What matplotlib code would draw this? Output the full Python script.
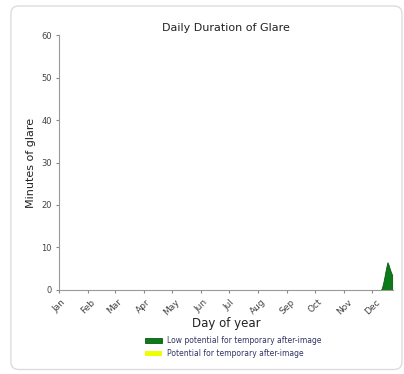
import matplotlib.pyplot as plt
from matplotlib.patches import FancyBboxPatch

# glare data (day of year, minutes)
days = [343, 344, 345, 346, 347, 348, 349, 350, 351, 352, 353, 354, 355]
low_minutes = [0, 0.4, 1.2, 2.2, 3.3, 4.5, 5.6, 6.5, 6, 5.3, 4.6, 4, 3.5]
high_minutes = [0, 0, 0, 0, 0, 0, 0, 0, 0, 0, 0, 0, 0]

month_days = [0, 31, 59, 90, 120, 151, 181, 212, 243, 273, 304, 334]
month_names = ['Jan', 'Feb', 'Mar', 'Apr', 'May', 'Jun',
               'Jul', 'Aug', 'Sep', 'Oct', 'Nov', 'Dec']

fig = plt.figure(figsize=(4.04, 3.74), dpi=100)

# card border
card = FancyBboxPatch((0.027, 0.012), 0.968, 0.972, boxstyle='round,pad=0,rounding_size=0.02',
                      transform=fig.transFigure, facecolor='white', edgecolor='#dddddd',
                      lw=1, zorder=-5)
fig.patches.append(card)

ax = fig.add_axes([0.147, 0.225, 0.826, 0.681])
ax.set_zorder(5)
ax.fill_between(days, low_minutes, color='#0d7a1a', edgecolor='#0a5a12', lw=0.6,
                label='Low potential for temporary after-image')
ax.fill_between(days, high_minutes, color='#f0ff00', lw=0,
                label='Potential for temporary after-image')

ax.set_xlim(0, 356)
ax.set_ylim(0, 60)
ax.set_yticks(range(0, 61, 10))
ax.set_xticks(month_days)
ax.set_xticklabels(month_names, rotation=45, ha='center')
ax.tick_params(labelsize=6.5, labelcolor='#444444', length=2, color='#888888')
ax.tick_params(axis='y', labelsize=6)
for s in ['top', 'right']:
    ax.spines[s].set_visible(False)
for s in ['left', 'bottom']:
    ax.spines[s].set_color('#999999')
ax.patch.set_alpha(0)

ax.set_title('Daily Duration of Glare', fontsize=8, color='#222222', pad=3)
ax.set_ylabel('Minutes of glare', fontsize=8, color='#222222')
ax.set_xlabel('Day of year', fontsize=8.5, color='#222222', labelpad=0)

leg = ax.legend(loc='upper center', bbox_to_anchor=(0.52, -0.155), frameon=False,
                fontsize=5.5, handlelength=2.3, handleheight=0.6, labelspacing=0.5,
                handletextpad=0.6)
for t in leg.get_texts():
    t.set_color('#333366')

plt.savefig('out.png', dpi=100)
